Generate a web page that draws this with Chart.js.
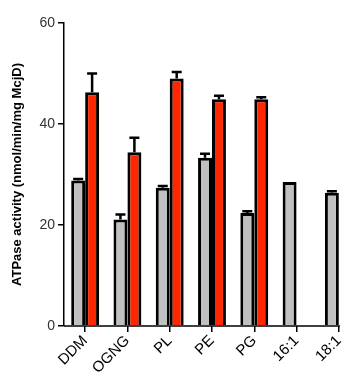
<!DOCTYPE html>
<html>
<head>
<meta charset="utf-8">
<script src="https://cdn.jsdelivr.net/npm/chart.js@4"></script>
<style>
  body { margin: 0; background: #fff; }
  #wrap { width: 360px; height: 384px; }
</style>
</head>
<body>
<div id="wrap"><canvas id="myChart"></canvas></div>
<script>
// data
var labels = ["DDM", "OGNG", "PL", "PE", "PG", "16:1", "18:1"];
var greyValues = [28.8, 21.1, 27.4, 33.3, 22.4, 28.5, 26.4];
var greyErr = [0.3, 1.0, 0.3, 0.8, 0.3, 0, 0.3];
var redValues = [46.3, 34.4, 49.0, 44.9, 44.9, null, null];
var redErr = [3.7, 2.9, 1.3, 0.7, 0.4, null, null];
var yTicks = [0, 20, 40, 60];

var errors = [greyErr, redErr];

// draws upward error bars with caps on each bar
var errorBars = {
  id: "errorBars",
  afterDatasetsDraw: function(chart) {
    var ctx = chart.ctx;
    var y = chart.scales.y;
    ctx.save();
    ctx.strokeStyle = "#000";
    ctx.lineWidth = 2.5;
    chart.data.datasets.forEach(function(ds, di) {
      var meta = chart.getDatasetMeta(di);
      meta.data.forEach(function(bar, i) {
        var v = ds.data[i];
        var e = errors[di][i];
        if (v == null || !e) return;
        var yTop = y.getPixelForValue(v + e);
        ctx.beginPath();
        ctx.moveTo(bar.x, bar.y);
        ctx.lineTo(bar.x, yTop);
        ctx.moveTo(bar.x - 5, yTop);
        ctx.lineTo(bar.x + 5, yTop);
        ctx.stroke();
      });
    });
    // x axis line ends at the last category tick
    var x = chart.scales.x;
    var yb = chart.chartArea.bottom;
    ctx.lineWidth = 1.5;
    ctx.beginPath();
    ctx.moveTo(chart.chartArea.left, yb);
    ctx.lineTo(x.getPixelForValue(labels.length - 1) + 1, yb);
    ctx.stroke();
    ctx.restore();
  }
};

new Chart("myChart", {
  type: "bar",
  data: {
    labels: labels,
    datasets: [{
      data: greyValues,
      backgroundColor: "#c0c0c0",
      borderColor: "#000",
      borderWidth: 3
    }, {
      data: redValues,
      backgroundColor: "#ff2600",
      borderColor: "#000",
      borderWidth: 3
    }]
  },
  plugins: [errorBars],
  options: {
    responsive: true,
    maintainAspectRatio: false,
    animation: false,
    layout: { padding: { top: 23, right: -8, left: 0, bottom: 0 } },
    datasets: { bar: { categoryPercentage: 0.66, barPercentage: 1 } },
    plugins: {
      legend: { display: false },
      tooltip: { enabled: false }
    },
    scales: {
      x: {
        border: { display: false },
        grid: {
          offset: false,
          drawOnChartArea: false,
          color: "#000",
          lineWidth: 1.5,
          tickLength: 6
        },
        ticks: {
          maxRotation: 45,
          minRotation: 45,
          color: "#000",
          padding: 0,
          font: { family: "'Liberation Sans', Arial", size: 15 }
        },
        afterFit: function(s) { s.height = 58; }
      },
      y: {
        min: 0,
        max: 60,
        border: { color: "#000", width: 1.5 },
        grid: {
          drawOnChartArea: false,
          color: "#000",
          lineWidth: 1.5,
          tickLength: 6
        },
        afterBuildTicks: function(s) {
          s.ticks = yTicks.map(function(v) { return { value: v }; });
        },
        ticks: {
          color: "#333",
          padding: 3,
          font: { family: "'Liberation Sans', Arial", size: 14 }
        },
        title: {
          display: true,
          text: "ATPase activity (nmol/min/mg McjD)",
          color: "#000",
          padding: { top: 10, bottom: 0 },
          font: { family: "'Liberation Sans', Arial", size: 13, weight: "bold" }
        },
        afterFit: function(s) { s.width = 64; }
      }
    }
  }
});
</script>
</body>
</html>
